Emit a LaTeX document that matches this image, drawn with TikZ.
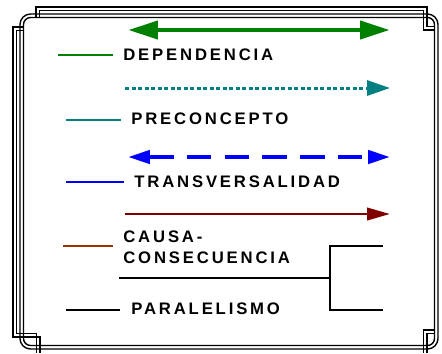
\documentclass[tikz,border=0pt]{standalone}
\usepackage{fontspec}
\newfontfamily\lblfont{Liberation Sans}[LetterSpace=17]
\usetikzlibrary{arrows.meta}

\definecolor{depgreen}{HTML}{008000}
\definecolor{preteal}{HTML}{008080}
\definecolor{trablue}{HTML}{0000FF}
\definecolor{caured}{HTML}{800000}
\definecolor{caubrown}{HTML}{993300}

\begin{document}
\begin{tikzpicture}[x=0.02cm,y=-0.02cm,
    frameline/.style={line width=0.8pt},
    keyline/.style={line width=1.1pt},
    lbl/.style={anchor=west,inner sep=0pt,font=\lblfont\bfseries\fontsize{9.5}{12}\selectfont}]
    \useasboundingbox (0,0) rectangle (442,353);

    % frame: square pieces
    \draw[frameline] (36,17.5) -- (36,7) -- (427,7) -- (427,26.5) -- (434.5,26.5);
    \draw[frameline] (39.5,17.5) -- (39.5,10.5) -- (423.5,10.5) -- (423.5,30) -- (434.5,30);
    \draw[frameline] (23.5,27) -- (13,27) -- (13,337) -- (40,337) -- (40,353);
    \draw[frameline] (23.5,30.5) -- (16.5,30.5) -- (16.5,333.5) -- (36.5,333.5) -- (36.5,353);
    \draw[frameline] (434.5,330) -- (423.5,330) -- (423.5,353);
    \draw[frameline] (434.5,333.5) -- (427,333.5) -- (427,353);
    % frame: rounded double line
    \draw[frameline,rounded corners=6pt] (20,14) rectangle (438,349);
    \draw[frameline,rounded corners=4pt] (23.5,17.5) rectangle (434.5,345.5);

    % DEPENDENCIA
    \coordinate (depA) at (128,30);
    \coordinate (depB) at (390,30);
    \draw[depgreen,line width=2.8pt,{Triangle[length=17pt,width=10pt]}-{Triangle[length=17pt,width=10pt]}] (depA) -- (depB);
    \coordinate (depK1) at (58,55);
    \coordinate (depK2) at (113,55);
    \draw[keyline,depgreen] (depK1) -- (depK2);
    \node[lbl] (dep) at (123,55) {DEPENDENCIA};

    % PRECONCEPTO
    \coordinate (preA) at (125,88);
    \coordinate (preB) at (390,88);
    \draw[preteal,line width=1.7pt,dash pattern=on 2.4pt off 1.3pt,-{Triangle[length=13pt,width=8.5pt]}] (preA) -- (preB);
    \coordinate (preK1) at (66,120);
    \coordinate (preK2) at (121,120);
    \draw[keyline,preteal] (preK1) -- (preK2);
    \node[lbl] (pre) at (131,119) {PRECONCEPTO};

    % TRANSVERSALIDAD
    \coordinate (traA) at (128,157);
    \coordinate (traB) at (390,157);
    \draw[trablue,line width=2.3pt,dash pattern=on 14pt off 7.5pt,{Triangle[length=12.5pt,width=7.5pt]}-{Triangle[length=12.5pt,width=7.5pt]}] (traA) -- (traB);
    \coordinate (traK1) at (66,182);
    \coordinate (traK2) at (124,182);
    \draw[keyline,trablue] (traK1) -- (traK2);
    \node[lbl] (tra) at (134,182) {TRANSVERSALIDAD};

    % CAUSA-CONSECUENCIA
    \coordinate (cauA) at (125,214);
    \coordinate (cauB) at (390,214);
    \draw[caured,line width=1.5pt,-{Triangle[length=13pt,width=7pt]}] (cauA) -- (cauB);
    \coordinate (cauK1) at (63,246);
    \coordinate (cauK2) at (113,246);
    \draw[keyline,caubrown] (cauK1) -- (cauK2);
    \node[lbl,align=left] (cau) at (123,247.5) {CAUSA-\\CONSECUENCIA};

    % PARALELISMO
    \coordinate (parA) at (119,278);
    \coordinate (parM) at (330,278);
    \coordinate (parT) at (383,246);
    \coordinate (parB) at (383,310);
    \draw[line width=1.4pt] (parA) -- (parM);
    \draw[line width=1.4pt] (parT) -| (parM) |- (parB);
    \coordinate (parK1) at (66,310);
    \coordinate (parK2) at (120,310);
    \draw[keyline] (parK1) -- (parK2);
    \node[lbl] (par) at (131,309) {PARALELISMO};
\end{tikzpicture}
\end{document}
